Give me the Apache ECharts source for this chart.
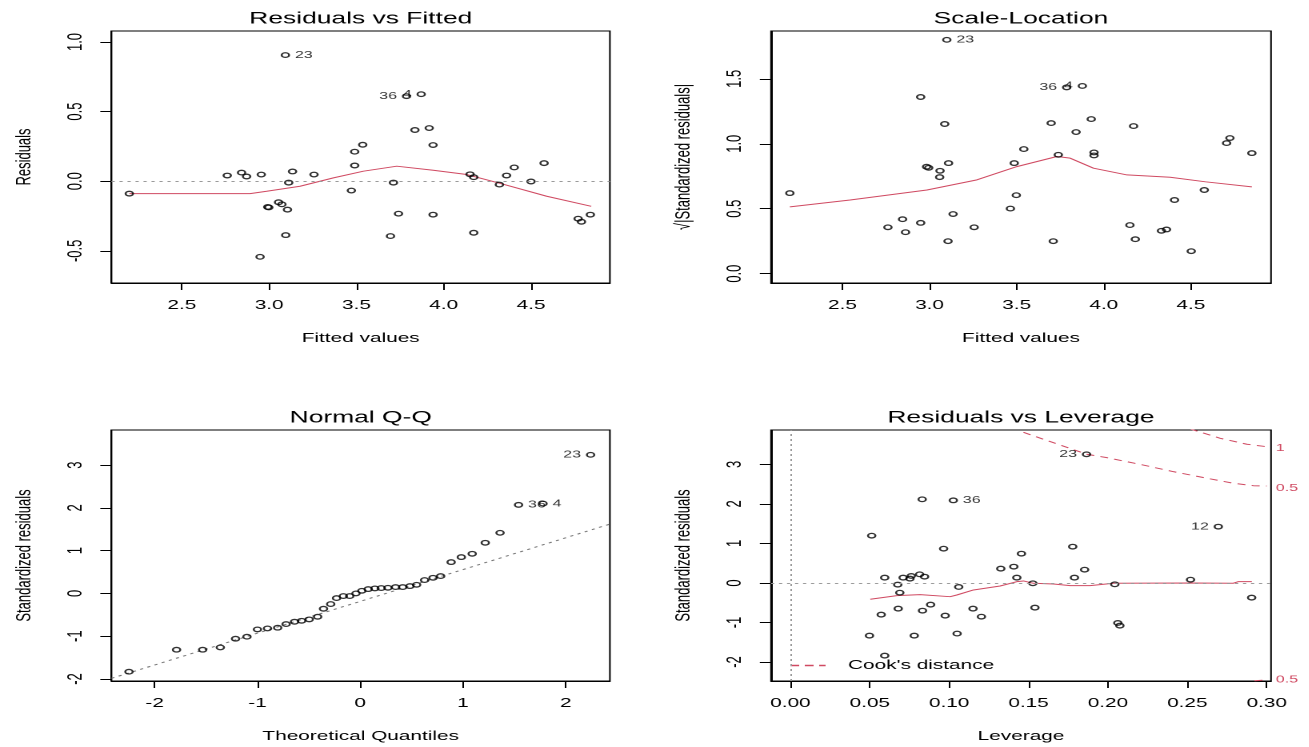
<!DOCTYPE html>
<html><head><meta charset="utf-8">
<script src="https://cdn.jsdelivr.net/npm/echarts@6.0.0/dist/echarts.min.js"></script>
<style>
html,body{margin:0;padding:0;background:#fff;overflow:hidden;width:1309px;height:747px;}
#wrap{width:818px;height:747px;transform:scaleX(1.6);transform-origin:0 0;}
</style></head><body><div id="wrap"></div>
<script>
// ---------- Panel 1: Residuals vs Fitted ----------
const p1Fitted = [2.199, 2.760, 2.842, 2.871, 2.955, 2.948, 2.992, 2.998, 3.054, 3.073, 3.105, 3.095, 3.093, 3.112, 3.134, 3.257, 3.471, 3.490, 3.490, 3.536, 3.712, 3.695, 3.741, 3.787, 3.871, 3.835, 3.917, 3.939, 3.939, 4.151, 4.172, 4.172, 4.319, 4.360, 4.404, 4.500, 4.575, 4.770, 4.789, 4.840];
const p1Resid = [-0.089, 0.041, 0.062, 0.034, 0.048, -0.543, -0.185, -0.188, -0.151, -0.166, -0.204, -0.387, 0.906, -0.010, 0.070, 0.048, -0.067, 0.113, 0.212, 0.262, -0.010, -0.394, -0.233, 0.611, 0.625, 0.368, 0.382, 0.260, -0.240, 0.050, 0.029, -0.370, -0.024, 0.041, 0.099, -0.002, 0.130, -0.269, -0.291, -0.240];
const p1IdIndex = [12, 23, 24];
const p1IdText = ['23', '36', '4'];
const p1SmoothX = [2.199, 2.604, 2.891, 2.986, 3.177, 3.368, 3.540, 3.731, 3.940, 4.132, 4.322, 4.590, 4.845];
const p1SmoothY = [-0.089, -0.089, -0.089, -0.072, -0.036, 0.024, 0.072, 0.108, 0.079, 0.048, -0.015, -0.108, -0.180];
const p1XTicks = [2.5, 3.0, 3.5, 4.0, 4.5];
const p1YTicks = [-0.5, 0.0, 0.5, 1.0];

// ---------- Panel 2: Scale-Location ----------
const p2Fitted = [2.198, 2.761, 2.845, 2.862, 2.949, 2.949, 2.983, 2.995, 3.060, 3.058, 3.087, 3.109, 3.106, 3.135, 3.099, 3.256, 3.464, 3.486, 3.498, 3.541, 3.698, 3.710, 3.739, 3.787, 3.877, 3.841, 3.928, 3.944, 3.944, 4.150, 4.171, 4.181, 4.331, 4.360, 4.406, 4.502, 4.577, 4.705, 4.724, 4.850];
const p2SqrtStd = [0.620, 0.357, 0.419, 0.319, 0.391, 1.360, 0.823, 0.815, 0.792, 0.743, 1.152, 0.851, 0.250, 0.459, 1.800, 0.357, 0.501, 0.851, 0.604, 0.959, 1.159, 0.250, 0.915, 1.434, 1.445, 1.090, 1.190, 0.933, 0.910, 0.374, 1.136, 0.265, 0.330, 0.340, 0.567, 0.173, 0.644, 1.005, 1.044, 0.928];
const p2IdIndex = [14, 23, 24];
const p2IdText = ['23', '36', '4'];
const p2SmoothX = [2.198, 2.544, 2.985, 3.272, 3.501, 3.731, 3.807, 3.941, 4.133, 4.381, 4.584, 4.850];
const p2SmoothY = [0.514, 0.567, 0.644, 0.722, 0.824, 0.902, 0.889, 0.812, 0.760, 0.742, 0.707, 0.668];
const p2XTicks = [2.5, 3.0, 3.5, 4.0, 4.5];
const p2YTicks = [0.0, 0.5, 1.0, 1.5];

// ---------- Panel 3: Normal Q-Q ----------
const p3Theo = [-2.250, -1.787, -1.533, -1.361, -1.213, -1.102, -1.000, -0.902, -0.803, -0.721, -0.639, -0.570, -0.496, -0.414, -0.357, -0.287, -0.230, -0.164, -0.102, -0.041, 0.016, 0.078, 0.143, 0.205, 0.270, 0.344, 0.414, 0.484, 0.549, 0.627, 0.709, 0.783, 0.885, 0.984, 1.090, 1.217, 1.361, 1.541, 1.779, 2.242];
const p3Std = [-1.830, -1.316, -1.316, -1.262, -1.059, -1.012, -0.841, -0.818, -0.802, -0.717, -0.662, -0.639, -0.607, -0.545, -0.358, -0.249, -0.109, -0.062, -0.062, 0.000, 0.062, 0.101, 0.117, 0.125, 0.132, 0.148, 0.148, 0.171, 0.202, 0.312, 0.366, 0.405, 0.732, 0.849, 0.927, 1.184, 1.417, 2.070, 2.100, 3.240];
const p3IdIndex = [37, 38, 39];
const p3IdText = ['36', '4', '23'];
const p3RefLineX = [-2.42, 2.43];
const p3RefLineY = [-1.985, 1.620];
const p3XTicks = [-2, -1, 0, 1, 2];
const p3YTicks = [-2, -1, 0, 1, 2, 3];

// ---------- Panel 4: Residuals vs Leverage ----------
const p4Lev = [0.0498, 0.0512, 0.0572, 0.0594, 0.0594, 0.0676, 0.0679, 0.0689, 0.0710, 0.0753, 0.0761, 0.0780, 0.0814, 0.0830, 0.0832, 0.0845, 0.0883, 0.0965, 0.0975, 0.1026, 0.1050, 0.1060, 0.1150, 0.1203, 0.1325, 0.1407, 0.1426, 0.1455, 0.1527, 0.1540, 0.1778, 0.1789, 0.1865, 0.1853, 0.2043, 0.2062, 0.2075, 0.2520, 0.2695, 0.2905];
const p4Std = [-1.332, 1.197, -0.801, -1.838, 0.135, -0.042, -0.649, -0.245, 0.135, 0.110, 0.177, -1.332, 0.219, 2.116, -0.700, 0.160, -0.548, 0.868, -0.826, 2.090, -1.280, -0.101, -0.649, -0.852, 0.363, 0.413, 0.135, 0.742, -0.008, -0.624, 0.919, 0.135, 3.255, 0.337, -0.034, -1.012, -1.079, 0.084, 1.425, -0.371];
const p4IdIndex = [19, 32, 38];
const p4IdText = ['36', '23', '12'];
const p4SmoothX = [0.0503, 0.0671, 0.0817, 0.1006, 0.1048, 0.1153, 0.1321, 0.1426, 0.1468, 0.1531, 0.1657, 0.1762, 0.1888, 0.2035, 0.2520, 0.2788, 0.2820, 0.2906];
const p4SmoothY = [-0.412, -0.321, -0.296, -0.347, -0.304, -0.177, -0.076, 0.033, 0.051, -0.008, -0.025, -0.068, -0.068, -0.008, 0.000, -0.008, 0.033, 0.033];
const cook05X = [0.1468, 0.1699, 0.1867, 0.1993, 0.2203, 0.2412, 0.2623, 0.2790, 0.2916, 0.3000];
const cook05Y = [3.810, 3.490, 3.256, 3.170, 3.000, 2.816, 2.649, 2.522, 2.461, 2.454];
const cook1X = [0.2518, 0.2707, 0.2875, 0.3000];
const cook1Y = [3.896, 3.660, 3.510, 3.448];
const cookNeg05X = [0.2923, 0.3000];
const cookNeg05Y = [-2.475, -2.455];
const cookLabelY = [3.41, 2.40, -2.45];
const cookLabelText = ['1', '0.5', '0.5'];
const p4XTicks = [0, 0.05, 0.10, 0.15, 0.20, 0.25, 0.30];
const p4YTicks = [-2, -1, 0, 1, 2, 3];

// ---------- styling / building ----------
const FONT = "'Liberation Sans', Arial, Helvetica, sans-serif";
const RED = '#D04A62';
const zip = (a, b) => a.map((v, i) => [v, b[i]]);

function pts(xs, ys, idIdx, idTxt) {
  const lx = idIdx.map(i => xs[i]);
  const mid = (Math.min(...lx) + Math.max(...lx)) / 2;
  return xs.map((x, i) => {
    const k = idIdx.indexOf(i);
    const it = { value: [x, ys[i]] };
    if (k >= 0) it.label = { show: true, formatter: idTxt[k], position: x > mid ? 'left' : 'right' };
    return it;
  });
}

function xAx(gi, min, max, ticks, dec, name) {
  return {
    gridIndex: gi, type: 'value', min: min, max: max,
    name: name, nameLocation: 'middle', nameGap: 49,
    nameTextStyle: { fontSize: 13, color: '#000', fontFamily: FONT },
    axisLine: { show: true, onZero: false, lineStyle: { color: '#000', width: 1 } },
    axisTick: { show: true, inside: false, length: 7, customValues: ticks, lineStyle: { color: '#000', width: 1 } },
    axisLabel: { customValues: ticks, formatter: v => Number(v).toFixed(dec), margin: 16, fontSize: 13, color: '#000', fontFamily: FONT },
    splitLine: { show: false }
  };
}
function yAx(gi, min, max, ticks, dec, name) {
  return {
    gridIndex: gi, type: 'value', min: min, max: max,
    name: name, nameLocation: 'middle', nameGap: 48,
    nameTextStyle: { fontSize: 13, color: '#000', fontFamily: FONT },
    axisLine: { show: true, onZero: false, lineStyle: { color: '#000', width: 1 } },
    axisTick: { show: true, inside: false, length: 7, customValues: ticks, lineStyle: { color: '#000', width: 1 } },
    axisLabel: { customValues: ticks, rotate: 90, formatter: v => Number(v).toFixed(dec), margin: 16, fontSize: 13, color: '#000', fontFamily: FONT },
    splitLine: { show: false }
  };
}
function scatter(gi, yi, data) {
  return {
    type: 'scatter', xAxisIndex: gi, yAxisIndex: yi, data: data,
    symbol: 'circle', symbolSize: 4.6, z: 3, silent: true,
    itemStyle: { color: 'rgba(0,0,0,0)', borderColor: '#000', borderWidth: 1.3 },
    label: { show: false, fontSize: 10, color: '#000', fontFamily: FONT, distance: 3 }
  };
}
function line(gi, yi, data, color, type, name) {
  return {
    type: 'line', name: name, xAxisIndex: gi, yAxisIndex: yi, data: data,
    symbol: 'none', showSymbol: false, clip: true, silent: true, z: 2,
    lineStyle: { color: color, width: 1, type: type }, itemStyle: { color: color }
  };
}
const zeroMark = (items) => ({
  silent: true, symbol: ['none', 'none'], label: { show: false }, animation: false,
  lineStyle: { color: '#9a9a9a', width: 1, type: [2, 3] }, data: items
});

const grids = [
  { left: 69.7, top: 31, width: 311.5, height: 252 },
  { left: 481.9, top: 31, width: 312.5, height: 252 },
  { left: 69.7, top: 430, width: 311.5, height: 251 },
  { left: 481.9, top: 430, width: 312.5, height: 251 }
].map(g => Object.assign(g, { show: true, borderColor: '#000', borderWidth: 1, backgroundColor: 'transparent', containLabel: false, outerBoundsMode: 'none' }));

const titles = [
  ['Residuals vs Fitted', 225.5, 19],
  ['Scale-Location', 638.1, 19],
  ['Normal Q-Q', 225.5, 418],
  ['Residuals vs Leverage', 638.1, 418]
];

const s1 = scatter(0, 0, pts(p1Fitted, p1Resid, p1IdIndex, p1IdText));
s1.markLine = zeroMark([{ yAxis: 0 }]);
const s4 = scatter(3, 3, pts(p4Lev, p4Std, p4IdIndex, p4IdText));
s4.markLine = zeroMark([{ yAxis: 0 }, { xAxis: 0 }]);

const cookAxis = {
  gridIndex: 3, type: 'value', position: 'right', min: -2.48, max: 3.87,
  axisLine: { show: false }, axisTick: { show: false }, splitLine: { show: false },
  axisLabel: {
    customValues: cookLabelY, margin: 3, fontSize: 10, color: RED, fontFamily: FONT,
    formatter: v => { let b = 0; cookLabelY.forEach((c, i) => { if (Math.abs(c - v) < Math.abs(cookLabelY[b] - v)) b = i; }); return cookLabelText[b]; }
  }
};

const option = {
  animation: false,
  backgroundColor: '#fff',
  textStyle: { fontFamily: FONT },
  grid: grids,
  graphic: titles.map(t => ({
    type: 'text', x: t[1], y: t[2], silent: true,
    style: { text: t[0], align: 'center', verticalAlign: 'middle', fontSize: 16.5, fontFamily: FONT, fill: '#000' }
  })),
  legend: {
    data: [{ name: "Cook's distance", icon: 'path://M0,0h5.5v1.5h-5.5z M9,0h5.5v1.5h-5.5z M18,0h4v1.5h-4z' }],
    left: 494, top: 659, padding: 0, orient: 'horizontal',
    itemWidth: 22, itemHeight: 12, selectedMode: false,
    itemStyle: { color: RED, borderWidth: 0 },
    textStyle: { fontSize: 13, color: '#000', fontFamily: FONT, padding: [0, 0, 0, 9] }
  },
  xAxis: [
    xAx(0, 2.097, 4.952, p1XTicks, 1, 'Fitted values'),
    xAx(1, 2.090, 4.960, p2XTicks, 1, 'Fitted values'),
    xAx(2, -2.42, 2.43, p3XTicks, 0, 'Theoretical Quantiles'),
    xAx(3, -0.0122, 0.3027, p4XTicks, 2, 'Leverage')
  ],
  yAxis: [
    yAx(0, -0.731, 1.079, p1YTicks, 1, 'Residuals'),
    yAx(1, -0.072, 1.868, p2YTicks, 1, '√|Standardized residuals|'),
    yAx(2, -2.047, 3.82, p3YTicks, 0, 'Standardized residuals'),
    yAx(3, -2.48, 3.87, p4YTicks, 0, 'Standardized residuals'),
    cookAxis
  ],
  series: [
    s1,
    line(0, 0, zip(p1SmoothX, p1SmoothY), RED, 'solid', 'smooth1'),
    scatter(1, 1, pts(p2Fitted, p2SqrtStd, p2IdIndex, p2IdText)),
    line(1, 1, zip(p2SmoothX, p2SmoothY), RED, 'solid', 'smooth2'),
    scatter(2, 2, pts(p3Theo, p3Std, p3IdIndex, p3IdText)),
    line(2, 2, zip(p3RefLineX, p3RefLineY), '#777', [2, 3], 'qqline'),
    s4,
    line(3, 3, zip(p4SmoothX, p4SmoothY), RED, 'solid', 'smooth4'),
    line(3, 3, zip(cook05X, cook05Y), RED, [5, 4], "Cook's distance"),
    line(3, 3, zip(cook1X, cook1Y), RED, [5, 4], "Cook's distance"),
    line(3, 3, zip(cookNeg05X, cookNeg05Y), RED, [5, 4], "Cook's distance")
  ]
};

const chart = echarts.init(document.getElementById('wrap'), null, { renderer: 'canvas', devicePixelRatio: 2 });
chart.setOption(option);
</script>
</body></html>
